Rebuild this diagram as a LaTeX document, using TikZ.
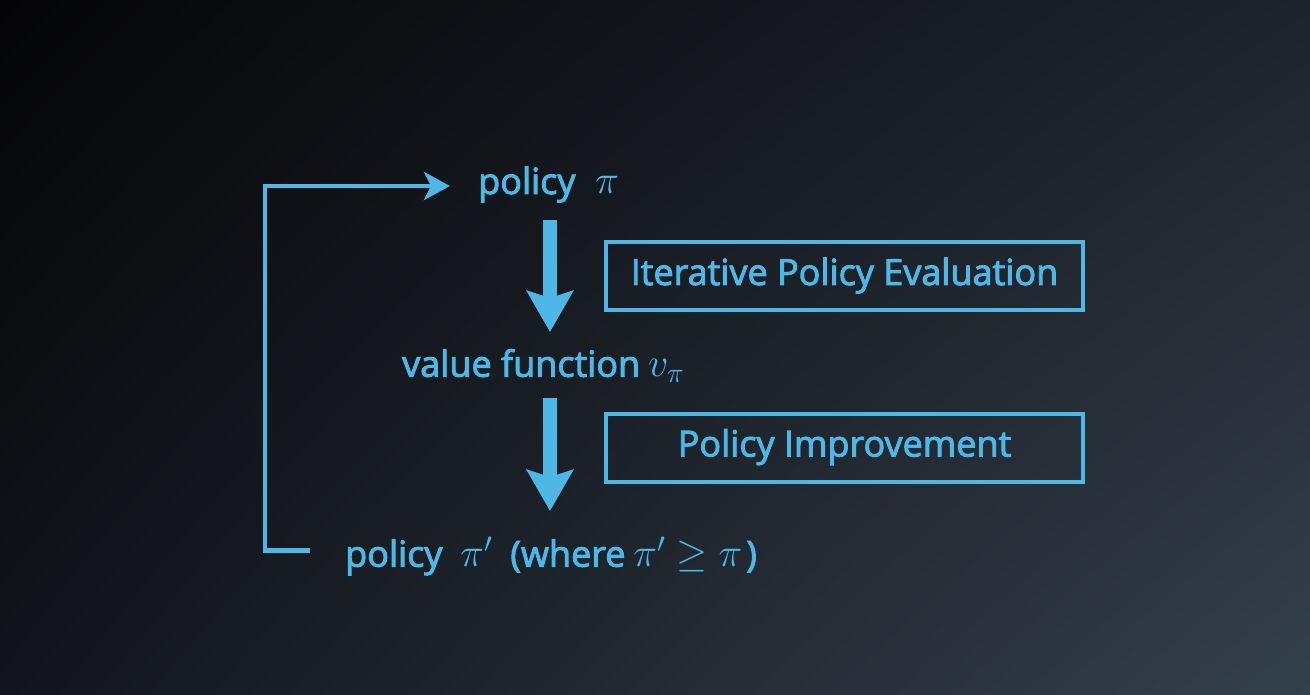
\RequirePackage{fix-cm}
\documentclass[tikz,border=0pt]{standalone}
\usepackage{fontspec}
\setmainfont{Open Sans}[FakeBold=2.6]
\usetikzlibrary{arrows.meta,shadings}
\definecolor{ink}{RGB}{78,183,230}
\definecolor{bgTL}{RGB}{5,5,7}
\definecolor{bgTR}{RGB}{30,36,44}
\definecolor{bgBL}{RGB}{18,21,27}
\definecolor{bgBR}{RGB}{52,64,76}
\newcommand{\mymath}[1]{{\fontsize{40}{48}\selectfont$#1$}}
\tikzset{
  txt/.style={anchor=base west, inner sep=0pt, text=ink, font=\fontsize{36}{43}\selectfont},
  boxnode/.style={draw=ink, line width=4pt, text=ink, inner sep=0pt,
    minimum width=477pt, minimum height=68pt, text height=25pt, text depth=7pt,
    font=\fontsize{36}{43}\selectfont},
  bigarrow/.style={draw=ink, line width=14.5pt, -{Stealth[length=41pt,width=46pt,inset=7pt]}},
  loopline/.style={draw=ink, line width=4.5pt, -{Stealth[length=26pt,width=28pt,inset=7pt]}}
}
\begin{document}
\begin{tikzpicture}[x=1pt,y=-1pt]
\shade[upper left=bgTL, upper right=bgTR, lower left=bgBL, lower right=bgBR] (0,0) rectangle (1310,695);
\useasboundingbox (0,0) rectangle (1310,695);

\node[txt] (p1) at (478,194) {policy\hspace{20pt}\mymath{\pi}};
\node[txt] (vf) at (402,376.7) {value function\hspace{8pt}\mymath{v_\pi}};
\node[txt] (p2) at (345,566.7) {policy\hspace{18pt}\mymath{\pi'}\hspace{18pt}(where\hspace{8pt}\mymath{\pi'\geq\pi}\hspace{4pt})};

\node[boxnode] (ipe) at (844.5,276) {Iterative Policy Evaluation};
\node[boxnode] (pim) at (844.5,447.5) {Policy Improvement};

\coordinate (a1s) at (550,220);
\coordinate (a1e) at (550,332);
\coordinate (a2s) at (550,398);
\coordinate (a2e) at (550,511);
\draw[bigarrow] (a1s) -- (a1e);
\draw[bigarrow] (a2s) -- (a2e);

\coordinate (lstart) at (310,550.5);
\coordinate (lcorner) at (265,550.5);
\coordinate (ltip) at (450,186);
\draw[loopline] (lstart) -- (lcorner) |- (ltip);
\end{tikzpicture}
\end{document}
